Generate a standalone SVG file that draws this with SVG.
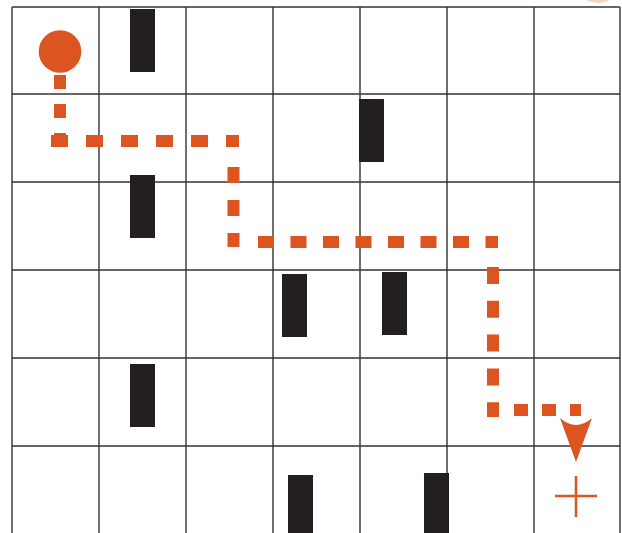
<svg xmlns="http://www.w3.org/2000/svg" width="622" height="533" viewBox="0 0 622 533">
<style>
.grid{stroke:#333333;stroke-width:1.4;fill:none}
.block{fill:#231f20}
.path{stroke:#dc5420;stroke-width:12;fill:none;stroke-linecap:butt}
.orange{fill:#dc5420}
</style>
<rect width="622" height="533" fill="#ffffff"/>
<path d="M586 0 Q598 6 610 0 Z" fill="#f6d3c0"/>
<g id="grid">
<path class="grid" d="M12 7 H620 M12 94 H620 M12 182 H620 M12 270 H620 M12 358 H620 M12 446 H620"/>
<path class="grid" d="M12 7 V533 M99 7 V533 M186 7 V533 M273 7 V533 M360 7 V533 M447 7 V533 M534 7 V533 M620 7 V533"/>
</g>
<g id="obstacles">
<rect id="ob1" class="block" x="130" y="9" width="25" height="63"/>
<rect id="ob2" class="block" x="359" y="99" width="25" height="63"/>
<rect id="ob3" class="block" x="130" y="175" width="25" height="63"/>
<rect id="ob4" class="block" x="282" y="274" width="25" height="63"/>
<rect id="ob5" class="block" x="382" y="272" width="25" height="63"/>
<rect id="ob6" class="block" x="130" y="364" width="25" height="63"/>
<rect id="ob7" class="block" x="288" y="475" width="25" height="58"/>
<rect id="ob8" class="block" x="424" y="473" width="25" height="60"/>
</g>
<g id="start">
<circle class="orange" cx="60" cy="51.5" r="21.3"/>
</g>
<g id="connectors">
<path class="path" d="M60 75 V147" stroke-dasharray="14 15" stroke-width="11.5"/>
<path class="path" d="M51 141 H239" stroke-dasharray="17 18"/>
<path class="path" d="M233.5 167 V247" stroke-dasharray="16 17" stroke-width="11"/>
<path class="path" d="M258 242 H498" stroke-dasharray="16 16.5"/>
<path class="path" d="M493 267 V417" stroke-dasharray="17 16.8" stroke-width="11"/>
<path class="path" d="M514 410 H581" stroke-dasharray="14 14" stroke-width="13"/>
<path class="orange" d="M560 418 Q576 432 592 418 L576 462 Z"/>
</g>
<g id="goal">
<path d="M576 476 V517 M555 496 H597" stroke="#dc5420" stroke-width="2.5" fill="none"/>
</g>
</svg>
